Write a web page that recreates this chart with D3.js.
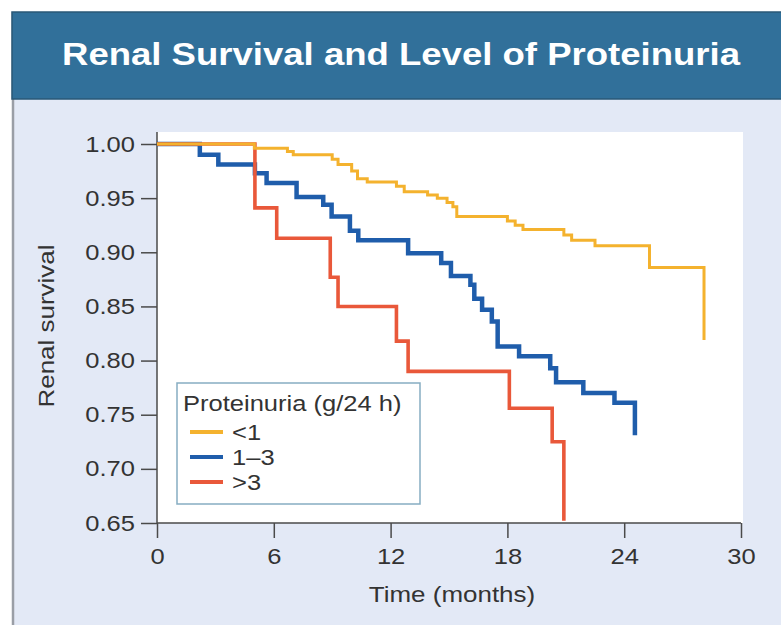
<!DOCTYPE html>
<html>
<head>
<meta charset="utf-8">
<script src="https://cdn.jsdelivr.net/npm/d3@7"></script>
<style>
  html, body { margin: 0; padding: 0; background: #ffffff; }
  svg { display: block; }
  text { font-family: "Liberation Sans", Arial, Helvetica, sans-serif; }
</style>
</head>
<body>
<svg id="chart" width="781" height="625"></svg>
<script>
// Kaplan–Meier renal survival by proteinuria group
const chartTitle = "Renal Survival and Level of Proteinuria";
const legendTitle = "Proteinuria (g/24 h)";
const groupLabels = ["<1", "1\u20133", ">3"];
const groupColors = ["#f4b22e", "#1f5dab", "#e9583a"];

// time (months) at each step, and survival after the step
const timeLow  = [0, 5.0, 6.7, 7.0, 9.0, 9.3, 10.0, 10.3, 10.8, 12.3, 12.7, 13.9, 14.4, 14.9, 15.2, 15.4, 18.0, 18.4, 18.8, 20.9, 21.3, 22.5, 25.3, 28.1];
const survLow  = [1.0, 0.996, 0.993, 0.990, 0.986, 0.981, 0.975, 0.968, 0.965, 0.961, 0.956, 0.953, 0.950, 0.946, 0.942, 0.933, 0.929, 0.925, 0.921, 0.916, 0.911, 0.906, 0.886, 0.819];

const timeMid  = [0, 2.2, 3.15, 5.03, 5.63, 7.17, 8.54, 8.97, 9.91, 10.34, 12.9, 14.6, 15.1, 16.1, 16.3, 16.7, 17.2, 17.5, 18.6, 20.2, 20.5, 21.9, 23.5, 24.55];
const survMid  = [1.0, 0.990, 0.981, 0.973, 0.964, 0.951, 0.944, 0.933, 0.920, 0.911, 0.899, 0.890, 0.878, 0.870, 0.857, 0.847, 0.836, 0.813, 0.804, 0.793, 0.780, 0.770, 0.761, 0.731];

const timeHigh = [0, 5.03, 6.15, 8.9, 9.3, 12.3, 12.9, 18.1, 20.3, 20.9];
const survHigh = [1.0, 0.941, 0.913, 0.877, 0.850, 0.818, 0.790, 0.756, 0.725, 0.652];

const xTicks = [0, 6, 12, 18, 24, 30];
const yTicks = [0.65, 0.70, 0.75, 0.80, 0.85, 0.90, 0.95, 1.00];

const svg = d3.select("#chart");
const STRETCH = 1.16;

// widen glyphs horizontally (the panel's typeface is broad)
function widen(sel, k) {
  sel.each(function () {
    const w = this.getComputedTextLength();
    d3.select(this).attr("textLength", w * k).attr("lengthAdjust", "spacingAndGlyphs");
  });
}

// frame, header band and panel
svg.append("rect").attr("x", 12).attr("y", 99).attr("width", 769).attr("height", 526).attr("fill", "#e3e9f6");
svg.append("line").attr("x1", 13).attr("x2", 13).attr("y1", 12).attr("y2", 625)
  .attr("stroke", "#9a9ea6").attr("stroke-width", 2.5);
svg.append("rect").attr("x", 12).attr("y", 12).attr("width", 770).attr("height", 87)
  .attr("fill", "#31709a").attr("stroke", "#2a5877").attr("stroke-width", 1.5);

const title = svg.append("text")
  .attr("x", 401).attr("y", 65)
  .attr("text-anchor", "middle")
  .attr("fill", "#ffffff")
  .attr("font-size", 32).attr("font-weight", "bold")
  .text(chartTitle);
title.attr("textLength", 678).attr("lengthAdjust", "spacingAndGlyphs");

// scales
const x = d3.scaleLinear().domain([0, 30]).range([157, 741]);
const y = d3.scaleLinear().domain([0.65, 1.0]).range([523, 144]);

// plotting area
svg.append("rect").attr("x", 157).attr("y", 132).attr("width", 586).attr("height", 391).attr("fill", "#ffffff");

// axes
const axisColor = "#4a4a4a";
const yAxis = svg.append("g").attr("transform", `translate(${x(0)},0)`)
  .call(d3.axisLeft(y).tickValues(yTicks).tickFormat(d3.format(".2f")).tickSize(16).tickPadding(6));
const xAxis = svg.append("g").attr("transform", `translate(0,${y(0.65)})`)
  .call(d3.axisBottom(x).tickValues(xTicks).tickFormat(d3.format("d")).tickSize(15).tickPadding(10));

[yAxis, xAxis].forEach(g => {
  g.select(".domain").remove();
  g.selectAll(".tick line").attr("stroke", axisColor).attr("stroke-width", 1.5);
  g.selectAll(".tick text").attr("fill", "#333333").attr("font-size", 22)
    .attr("font-family", "'Liberation Sans', Arial, sans-serif");
  widen(g.selectAll(".tick text"), STRETCH);
});
svg.append("line").attr("x1", x(0)).attr("x2", x(0)).attr("y1", 132).attr("y2", y(0.65))
  .attr("stroke", axisColor).attr("stroke-width", 1.5);
svg.append("line").attr("x1", x(0)).attr("x2", x(30)).attr("y1", y(0.65)).attr("y2", y(0.65))
  .attr("stroke", axisColor).attr("stroke-width", 1.5);

// axis titles
const yTitle = svg.append("text")
  .attr("transform", "translate(54,326) rotate(-90)")
  .attr("text-anchor", "middle")
  .attr("fill", "#333333").attr("font-size", 22)
  .text("Renal survival");
widen(yTitle, 1.18);

const xTitle = svg.append("text")
  .attr("x", 452).attr("y", 602)
  .attr("text-anchor", "middle")
  .attr("fill", "#333333").attr("font-size", 22)
  .text("Time (months)");
widen(xTitle, 1.18);

// survival curves
const series = [
  { t: timeMid,  s: survMid,  color: groupColors[1], width: 4.5 },
  { t: timeHigh, s: survHigh, color: groupColors[2], width: 3.6 },
  { t: timeLow,  s: survLow,  color: groupColors[0], width: 3.0 }
];
const step = d3.line()
  .x(d => x(d[0]))
  .y(d => y(d[1]))
  .curve(d3.curveStepAfter);

svg.append("g").selectAll("path")
  .data(series)
  .join("path")
  .attr("d", d => step(d.t.map((t, i) => [t, d.s[i]])))
  .attr("fill", "none")
  .attr("stroke", d => d.color)
  .attr("stroke-width", d => d.width)
  .attr("stroke-linejoin", "miter");

// legend
const legend = svg.append("g");
legend.append("rect")
  .attr("x", 177).attr("y", 383).attr("width", 243).attr("height", 121)
  .attr("fill", "#ffffff").attr("stroke", "#86adc2").attr("stroke-width", 1.5);
const lt = legend.append("text")
  .attr("x", 183).attr("y", 411)
  .attr("fill", "#333333").attr("font-size", 22)
  .text(legendTitle);
widen(lt, STRETCH);

const rowY = d3.scalePoint().domain(groupLabels).range([432, 482]);
groupLabels.forEach((lab, i) => {
  legend.append("line")
    .attr("x1", 190).attr("x2", 223)
    .attr("y1", rowY(lab)).attr("y2", rowY(lab))
    .attr("stroke", groupColors[i]).attr("stroke-width", 4);
  const t = legend.append("text")
    .attr("x", 232).attr("y", rowY(lab))
    .attr("dy", "0.36em")
    .attr("fill", "#333333").attr("font-size", 22)
    .text(lab);
  widen(t, STRETCH);
});
</script>
</body>
</html>
